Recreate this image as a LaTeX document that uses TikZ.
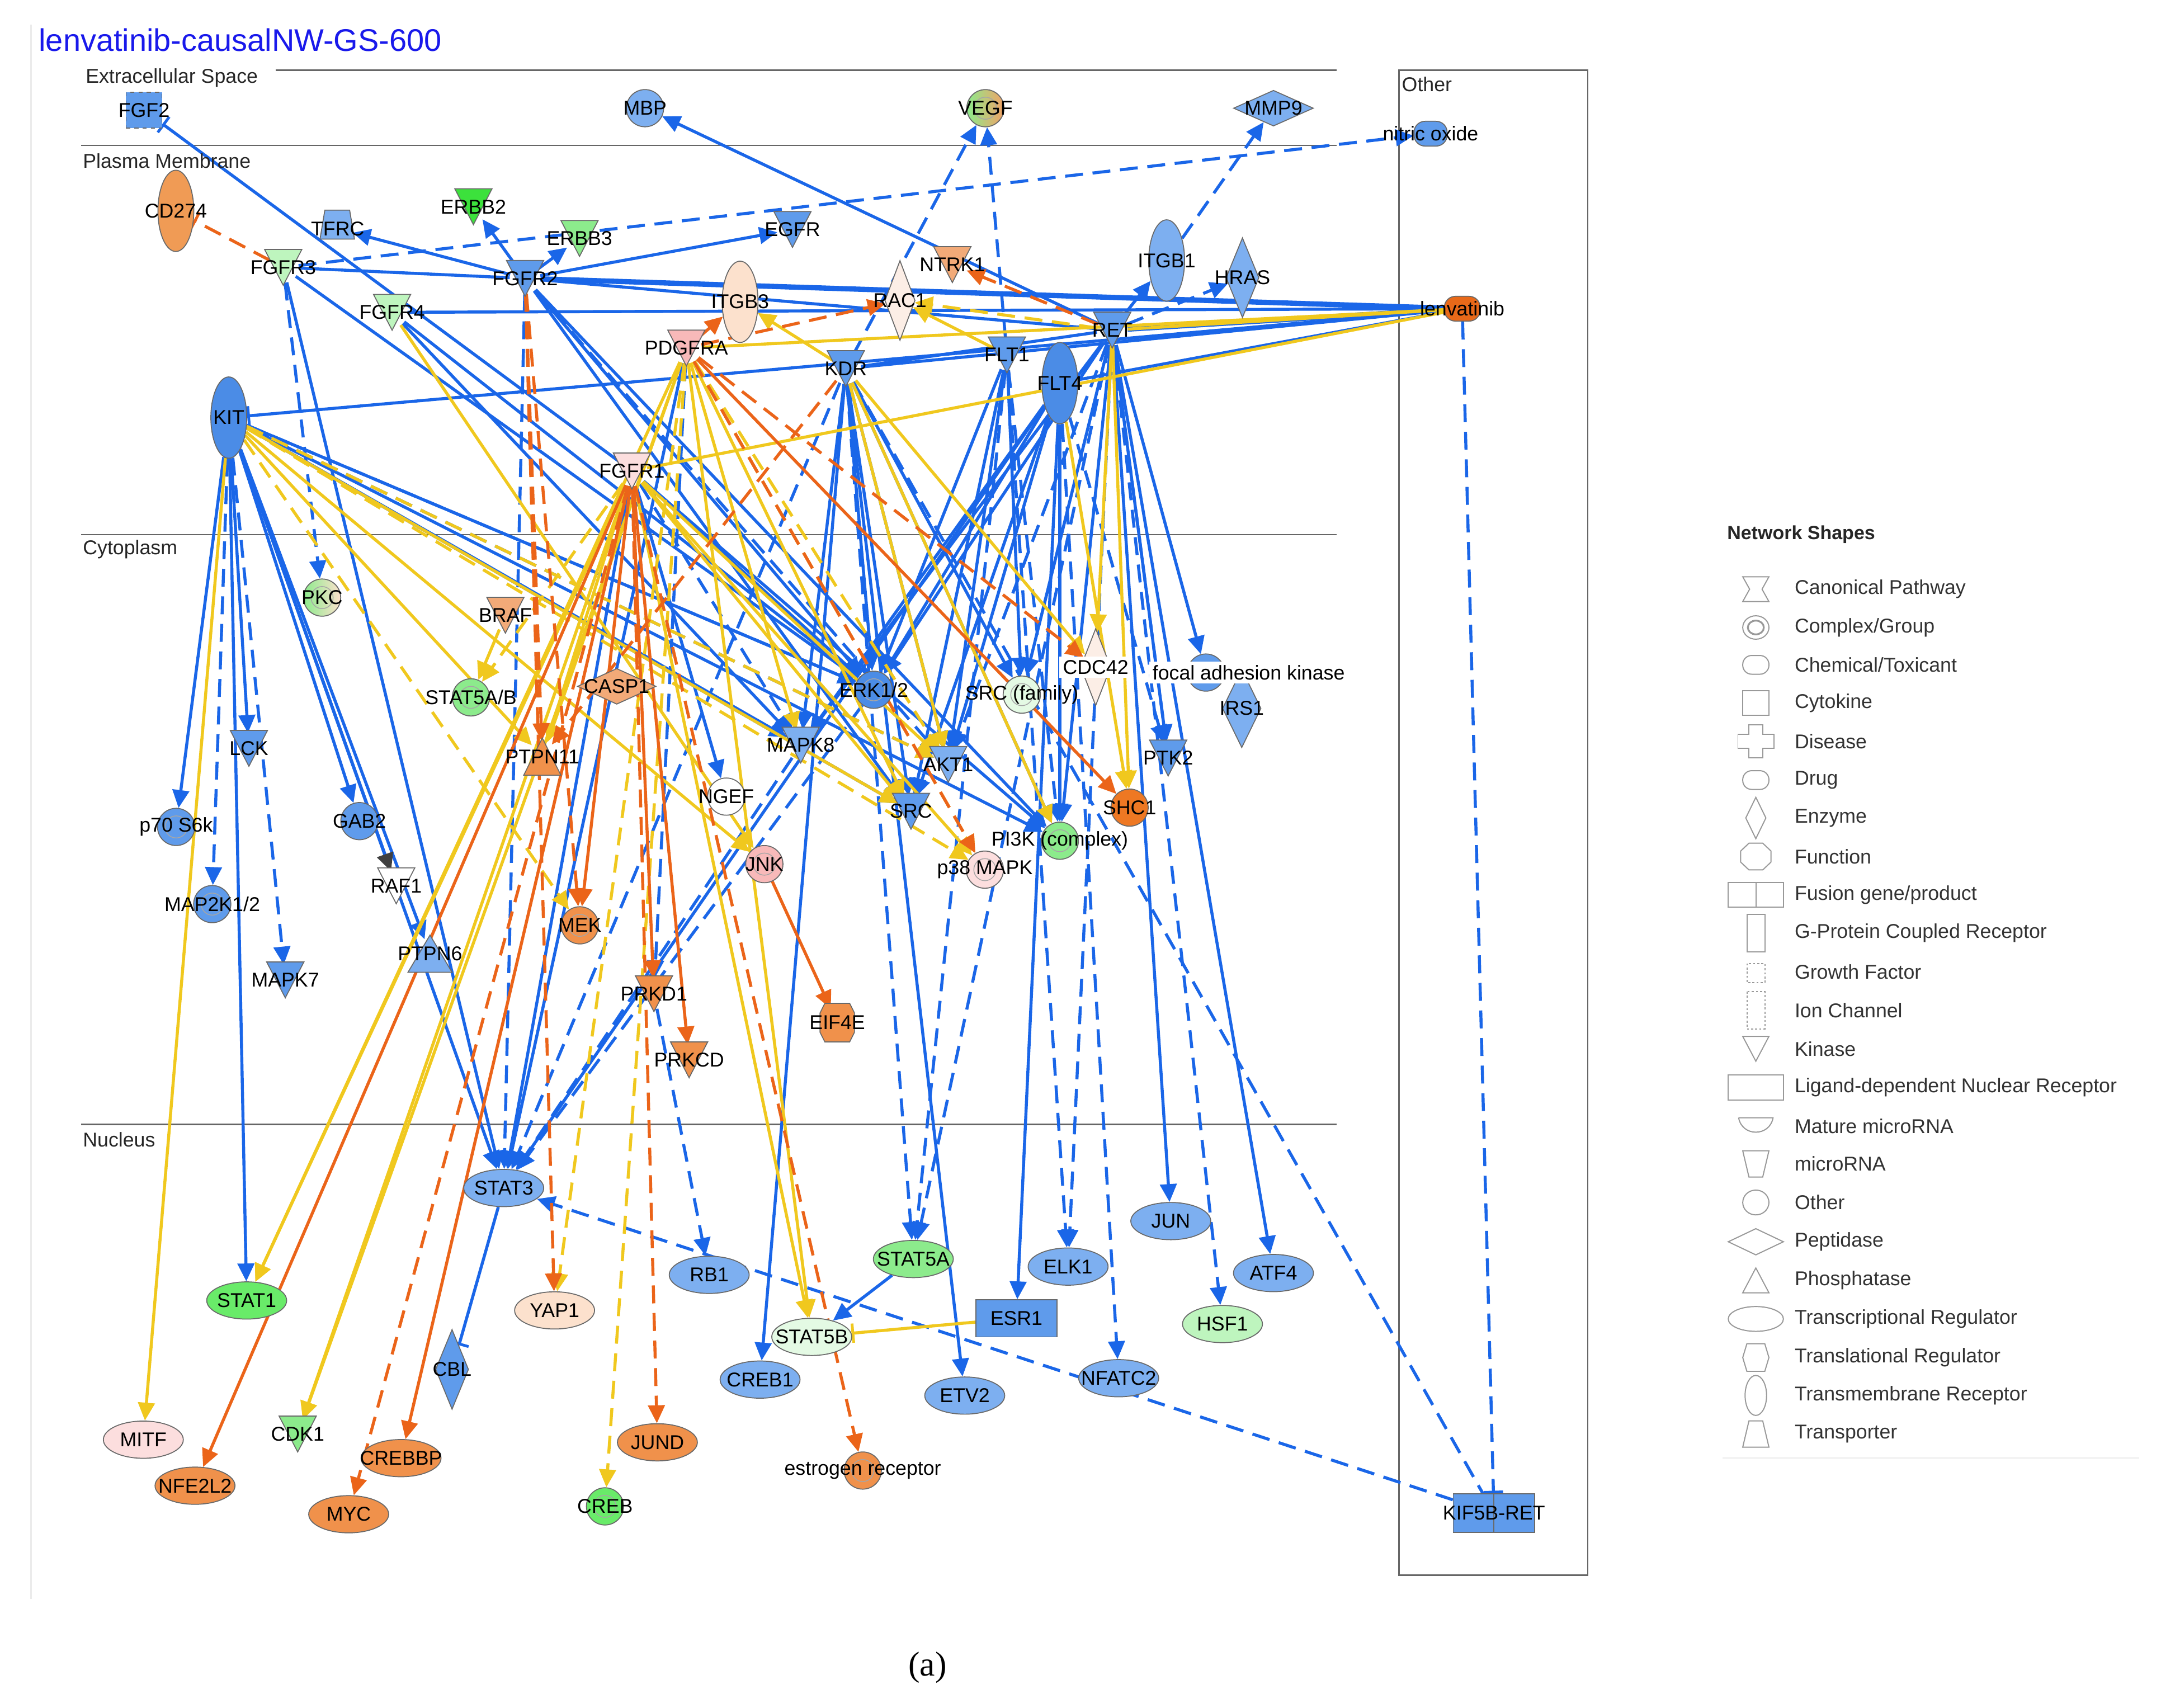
\documentclass[tikz,border=0pt]{standalone}
\usepackage{fontspec}
\setmainfont{Liberation Sans}
\newfontfamily\capfont{Liberation Serif}
\usetikzlibrary{shapes.geometric,arrows.meta}
\pgfdeclarelayer{bg}
\pgfsetlayers{bg,main}
\newcommand\lbl{\fontsize{14.5}{16}\selectfont}
\definecolor{eblue}{RGB}{26,102,232}
\definecolor{eyel}{RGB}{240,200,30}
\definecolor{eorg}{RGB}{235,100,25}
\definecolor{ngray}{RGB}{105,105,105}
\definecolor{dblue}{RGB}{75,140,230}
\definecolor{nblue}{RGB}{95,155,235}
\definecolor{lblue}{RGB}{125,175,240}
\definecolor{gbright}{RGB}{60,225,60}
\definecolor{gbright2}{RGB}{105,235,105}
\definecolor{glight}{RGB}{140,235,140}
\definecolor{gpale}{RGB}{190,245,190}
\definecolor{gvpale}{RGB}{228,250,228}
\definecolor{omed}{RGB}{240,145,75}
\definecolor{lorg}{RGB}{232,105,25}
\definecolor{oshc}{RGB}{238,120,35}
\definecolor{corg}{RGB}{240,155,85}
\definecolor{olight}{RGB}{242,170,120}
\definecolor{peach}{RGB}{252,225,205}
\definecolor{peachl}{RGB}{252,238,230}
\definecolor{pinkm}{RGB}{248,185,185}
\definecolor{pinkl}{RGB}{252,222,222}
\definecolor{titleblue}{RGB}{25,25,235}
\tikzset{
 nd/.style={draw=ngray, line width=0.7pt, inner sep=0pt},
 lb/.style={font=\lbl, inner sep=0pt, text=black},
 L/.style={label={[lb]center:#1}},
 tr/.style={nd, ellipse, minimum width=58, minimum height=27},
 tm/.style={nd, ellipse, minimum width=26, minimum height=59},
 cx/.style={nd, circle, minimum size=27, path picture={\draw[black!35, line width=0.6pt] (path picture bounding box.center) circle (8);}},
 ot/.style={nd, circle, minimum size=27},
 enz/.style={nd, diamond, minimum width=24, minimum height=58},
 pep/.style={nd, diamond, minimum width=58, minimum height=26},
 hid/.style={circle, minimum size=22, inner sep=0pt},
 EW/.style={line width=2.2pt},
 bc/.style={EW, draw=eblue},
 yc/.style={EW, draw=eyel},
 oc/.style={EW, draw=eorg},
 dsh/.style={dash pattern=on 13pt off 7pt},
 ar/.style={-{Triangle[length=13pt,width=12pt]}},
 te/.style={-{Bar[width=14pt,line width=2pt]}},
 bs/.style={bc,ar}, bd/.style={bc,ar,dsh}, bl/.style={bc}, bld/.style={bc,dsh},
 bt/.style={bc,te}, bdt/.style={bc,te,dsh}, blT/.style={bc,line width=3.8pt},
 bsg/.style={bc,-{Triangle[length=13pt,width=12pt,color=darkgray]}},
 ys/.style={yc,ar}, yd/.style={yc,ar,dsh}, yl/.style={yc}, yt/.style={yc,te},
 os/.style={oc,ar}, od/.style={oc,ar,dsh}, odt/.style={oc,te,dsh},
 lg/.style={draw=black!40, line width=0.8pt},
 lgt/.style={anchor=west, font=\lbl, text=black!80, inner sep=0pt},
 comp/.style={anchor=west, font=\lbl, text=black!85, inner sep=0pt}
}
\newcommand\lnk[3]{\draw[#1] (#2) -- (#3);}
\newcommand\kin[5]{\filldraw[fill=#4,draw=ngray,line width=0.7pt] (#2,#3) ++(-13.5,-13) -- ++(27,0) -- ++(-13.5,26) -- cycle;
 \node[hid,L={#5}] (#1) at (#2,#3) {};}
\newcommand\phos[6]{\filldraw[fill=#4,draw=ngray,line width=0.7pt] (#2,#3) ++(0,-13.5) -- ++(#6/2,27) -- ++(-#6,0) -- cycle;
 \node[hid,L={#5}] (#1) at (#2,#3) {};}
\begin{document}
\begin{tikzpicture}[x=1pt,y=-1pt]
\useasboundingbox (0,0) rectangle (1568,1239);
% title and compartments
\node[anchor=west, inner sep=0pt, text=titleblue, font=\fontsize{22.7}{26}\selectfont] at (28,29) {lenvatinib-causalNW-GS-600};
\node[comp] at (62,56.6) {Extracellular Space};
\node[comp] at (60,116.6) {Plasma Membrane};
\node[comp] at (60,398.6) {Cytoplasm};
\node[comp] at (60,827) {Nucleus};
\node[comp] at (1017,61) {Other};
\node[inner sep=0pt, font=\capfont\fontsize{25}{28}\selectfont] at (673,1210) {(a)};

% ---------------- nodes ----------------
% Extracellular
\node[nd, rectangle, dashed, minimum size=26, fill=nblue, L=FGF2] (fgf2) at (104.5,80) {};
\node[ot, fill=lblue, L=MBP] (mbp) at (468,78.5) {};
\node[cx, left color=glight, right color=omed!85, L=VEGF] (vegf) at (715,78.5) {};
\node[pep, fill=lblue, L=MMP9] (mmp9) at (924,78.5) {};
\node[nd, rectangle, rounded corners=8, minimum width=24, minimum height=18, fill=nblue, L={nitric oxide}] (nitric) at (1038,97) {};
% Plasma membrane
\node[tm, fill=corg, L=CD274] (cd274) at (127.6,153) {};
\filldraw[fill=lblue,draw=ngray,line width=0.7pt] (244.7,163) ++(-9,-10.5) -- ++(18,0) -- ++(3.5,21) -- ++(-25,0) -- cycle;
\node[hid, L=TFRC] (tfrc) at (245,166) {};
\kin{erbb2}{343.5}{150}{gbright}{ERBB2}
\kin{erbb3}{420.5}{173}{glight}{ERBB3}
\kin{egfr}{575}{166.5}{nblue}{EGFR}
\kin{fgfr3}{205.5}{194}{gpale}{FGFR3}
\kin{fgfr2}{381}{202}{nblue}{FGFR2}
\kin{fgfr4}{284.5}{226.6}{gpale}{FGFR4}
\node[tm, fill=peach, L=ITGB3] (itgb3) at (537,219) {};
\node[enz, minimum width=22, fill=peachl, L=RAC1] (rac1) at (653,218) {};
\kin{ntrk1}{691}{192}{olight}{NTRK1}
\node[tm, fill=lblue, L=ITGB1] (itgb1) at (846.5,189) {};
\node[enz, fill=lblue, L=HRAS] (hras) at (901.5,201.5) {};
\kin{ret}{807}{239.5}{nblue}{RET}
\kin{pdgfra}{498}{252.5}{pinkm}{PDGFRA}
\kin{kdr}{613.7}{267.4}{nblue}{KDR}
\kin{flt1}{730.6}{257.5}{nblue}{FLT1}
\node[tm, fill=dblue, L=FLT4] (flt4) at (769,278) {};
\node[tm, fill=dblue, L=KIT] (kit) at (166,303) {};
\kin{fgfr1}{458.5}{341.7}{pinkl}{FGFR1}
\node[nd, rectangle, rounded corners=8, minimum width=26, minimum height=18, fill=lorg, L=lenvatinib] (lenv) at (1061,224) {};
% Cytoplasm
\node[cx, left color=glight, right color=peach, L=PKC] (pkc) at (233.7,433.6) {};
\kin{braf}{366.7}{446.4}{olight}{BRAF}
\node[cx, fill=glight, L=STAT5A/B] (stat5ab) at (341.7,506) {};
\node[pep, minimum width=57, fill=olight, L=CASP1] (casp1) at (447.5,498) {};
\phos{ptpn11}{393.5}{549}{omed}{PTPN11}{27}
\kin{lck}{180.6}{543}{nblue}{LCK}
\node[cx, fill=nblue, L={p70 S6k}] (p70) at (127.8,600) {};
\node[ot, fill=nblue, L=GAB2] (gab2) at (260.8,595.8) {};
\kin{raf1}{287.5}{642.7}{white}{RAF1}
\node[cx, fill=nblue, L=MAP2K1/2] (map2k) at (154,656) {};
\kin{mapk7}{207}{711}{nblue}{MAPK7}
\node[cx, fill=omed, L=MEK] (mek) at (420.7,671.4) {};
\phos{ptpn6}{312}{692}{lblue}{PTPN6}{32}
\kin{prkd1}{474.5}{721}{omed}{PRKD1}
\kin{prkcd}{500}{769}{omed}{PRKCD}
\node[cx, fill=dblue, L=ERK1/2] (erk) at (634,500.5) {};
\node[cx, fill=gvpale, L={SRC (family)}] (srcf) at (741.4,504) {};
\node[enz, minimum width=22, minimum height=56, fill=peachl, label={[lb,fill=white,inner sep=2.5pt]center:CDC42}] (cdc42) at (795,484) {};
\node[enz, minimum width=28, minimum height=57, fill=lblue, L=IRS1] (irs1) at (901,514) {};
\node[ot, fill=nblue, label={[lb,fill=white,inner sep=2.5pt,xshift=31pt]center:focal adhesion kinase}] (fak) at (875,488) {};
\kin{mapk8}{581}{540.6}{lblue}{MAPK8}
\kin{akt1}{688}{554.6}{lblue}{AKT1}
\kin{ptk2}{847.6}{550}{nblue}{PTK2}
\node[ot, fill=white, L=NGEF] (ngef) at (527,578) {};
\kin{src}{661}{588.6}{nblue}{SRC}
\node[ot, fill=oshc, L=SHC1] (shc1) at (819.6,586) {};
\node[cx, fill=glight, L={PI3K (complex)}] (pi3k) at (769,610) {};
\node[cx, fill=pinkl, L={p38 MAPK}] (p38) at (714.6,631) {};
\node[cx, fill=pinkm, L=JNK] (jnk) at (554.6,627) {};
\filldraw[fill=omed,draw=ngray,line width=0.7pt] (607.5,742) ++(-9,-14) -- ++(18,0) -- ++(3.5,7) -- ++(0,14) -- ++(-3.5,7) -- ++(-18,0) -- ++(-3.5,-7) -- ++(0,-14) -- cycle;
\node[hid, L=EIF4E] (eif4e) at (607.5,742) {};
% Nucleus
\node[tr, fill=lblue, L=STAT3] (stat3) at (365.5,862) {};
\node[tr, fill=lblue, L=JUN] (jun) at (849.5,886) {};
\node[tr, fill=glight, L=STAT5A] (stat5a) at (662.7,913.5) {};
\node[tr, fill=lblue, L=RB1] (rb1) at (514.6,925) {};
\node[tr, fill=lblue, L=ELK1] (elk1) at (775,919) {};
\node[tr, fill=lblue, L=ATF4] (atf4) at (924,923.7) {};
\node[tr, fill=gbright2, L=STAT1] (stat1) at (179,943.6) {};
\node[tr, fill=peach, L=YAP1] (yap1) at (402.4,950.8) {};
\node[nd, rectangle, minimum width=59, minimum height=27, fill=nblue, L=ESR1] (esr1) at (737.5,956.6) {};
\node[tr, fill=gvpale, L=STAT5B] (stat5b) at (589,970) {};
\node[tr, fill=gpale, L=HSF1] (hsf1) at (887,960.7) {};
\node[enz, fill=nblue, L=CBL] (cbl) at (328,993.6) {};
\node[tr, fill=lblue, L=CREB1] (creb1) at (551.5,1001) {};
\node[tr, fill=lblue, L=NFATC2] (nfatc2) at (811.7,1000) {};
\node[tr, fill=lblue, L=ETV2] (etv2) at (700,1012.6) {};
\node[tr, fill=pinkl, L=MITF] (mitf) at (104,1044.6) {};
\kin{cdk1}{216}{1040.5}{glight}{CDK1}
\node[tr, fill=omed, L=CREBBP] (crebbp) at (291,1058) {};
\node[tr, fill=omed, L=JUND] (jund) at (477,1046.5) {};
\node[tr, fill=omed, L=NFE2L2] (nfe2l2) at (141.5,1078) {};
\node[tr, fill=omed, L=MYC] (myc) at (253,1098.7) {};
\node[cx, fill=gbright2, L=CREB] (creb) at (439,1093) {};
\node[cx, fill=omed, L={estrogen receptor}] (estr) at (626,1067) {};
\node[nd, rectangle, minimum width=59, minimum height=28, fill=nblue, L=KIF5B-RET, path picture={\draw[ngray, line width=0.7pt] (path picture bounding box.north) -- (path picture bounding box.south);}] (kif5b) at (1084,1098) {};

% ---------------- edges and compartment lines ----------------
\begin{pgfonlayer}{bg}
\fill[white] (0,0) rectangle (1568,1239);
\draw[black!8, line width=1pt] (22.5,18) -- (22.5,1160);
\draw[black!60, line width=1pt] (200,50.9) -- (970,50.9);
\draw[black!60, line width=1pt] (59,105.5) -- (970,105.5);
\draw[black!60, line width=1pt] (59,387.9) -- (970,387.9);
\draw[black!60, line width=1pt] (59,815.8) -- (970,815.8);
\draw[black!60, line width=1pt] (1015,50.9) rectangle (1152,1143);
\draw[black!8, line width=1pt] (1250,1058) -- (1552,1058);
% blue
\lnk{bt}{fgfr1}{fgf2}
\lnk{bs}{fgfr2}{tfrc}
\lnk{bs}{fgfr2}{erbb2}
\lnk{bs}{fgfr2}{erbb3}
\lnk{bs}{fgfr2}{egfr}
\lnk{bl}{fgfr3}{fgfr2}
\lnk{bd}{fgfr3}{nitric}
\lnk{blT}{fgfr2}{lenv}
\lnk{bl}{fgfr2}{ret}
\lnk{bl}{fgfr4}{lenv}
\lnk{bt}{lenv}{kit}
\lnk{bs}{ret}{itgb1}
\lnk{bd}{ret}{hras}
\lnk{bd}{itgb1}{mmp9}
\lnk{bs}{ret}{mbp}
\lnk{bd}{kdr}{vegf}
\lnk{bd}{flt1}{vegf}
\lnk{blT}{ret}{lenv}
\lnk{bl}{kdr}{lenv}
\lnk{bl}{kdr}{ret}
\lnk{bl}{flt4}{lenv}
\lnk{bdt}{lenv}{kif5b}
\lnk{bld}{kdr}{kif5b}
\lnk{bd}{kif5b}{stat3}
\foreach \t in {p70,lck,stat1,gab2,ptpn6,stat3,erk,mapk8,src,pi3k} {\lnk{bs}{kit}{\t}}
\foreach \t in {map2k,mapk7,erk,akt1} {\lnk{bd}{kit}{\t}}
\lnk{bsg}{kit}{raf1}
\lnk{bd}{fgfr3}{pkc}
\foreach \t in {stat3,erk} {\lnk{bs}{fgfr3}{\t}}
\foreach \t in {erk,src,pi3k} {\lnk{bs}{fgfr2}{\t}}
\foreach \t in {stat3,akt1} {\lnk{bd}{fgfr2}{\t}}
\foreach \t in {erk,mapk8} {\lnk{bs}{fgfr4}{\t}}
\lnk{bs}{pdgfra}{stat3}
\lnk{bd}{pdgfra}{prkd1}
\foreach \t in {stat3,ngef,erk,pi3k} {\lnk{bs}{fgfr1}{\t}}
\lnk{bd}{fgfr1}{mapk8}
\foreach \t in {erk,srcf,src,akt1,pi3k,etv2,creb1,mapk8} {\lnk{bs}{kdr}{\t}}
\foreach \t in {stat5a,stat3} {\lnk{bd}{kdr}{\t}}
\foreach \t in {erk,akt1,src,srcf} {\lnk{bs}{flt1}{\t}}
\foreach \t in {pi3k,stat5a,elk1} {\lnk{bd}{flt1}{\t}}
\foreach \t in {erk,mapk8,stat3,src,pi3k,akt1,esr1} {\lnk{bs}{flt4}{\t}}
\foreach \t in {nfatc2,ptk2} {\lnk{bd}{flt4}{\t}}
\foreach \t in {fak,pi3k,srcf,jun,atf4,erk,mapk8,ptk2} {\lnk{bs}{ret}{\t}}
\foreach \t in {ptk2,hsf1,elk1,stat5a,akt1} {\lnk{bd}{ret}{\t}}
\lnk{bd}{prkd1}{rb1}
\lnk{bt}{stat3}{cbl}
\lnk{bs}{stat5a}{stat5b}
\lnk{bd}{erk}{stat3}
\lnk{bd}{mapk8}{stat3}
% yellow
\lnk{ys}{kdr}{itgb3}
\lnk{yd}{ret}{rac1}
\lnk{ys}{flt1}{rac1}
\lnk{yl}{pdgfra}{lenv}
\lnk{yl}{fgfr1}{lenv}
\lnk{yl}{ret}{lenv}
\foreach \t in {mitf,ptpn11,jnk,src} {\lnk{ys}{kit}{\t}}
\foreach \t in {mek,p38,akt1} {\lnk{yd}{kit}{\t}}
\lnk{ys}{fgfr4}{jnk}
\foreach \t in {stat1,cdk1,ptpn11,mapk8,src,stat5b} {\lnk{ys}{pdgfra}{\t}}
\foreach \t in {creb,yap1,akt1,p38} {\lnk{yd}{pdgfra}{\t}}
\foreach \t in {stat1,cdk1,stat5b,ptpn11,akt1,src,p38} {\lnk{ys}{fgfr1}{\t}}
\lnk{yd}{fgfr1}{stat5ab}
\foreach \t in {akt1,pi3k,cdc42} {\lnk{ys}{kdr}{\t}}
\foreach \t in {shc1,cdc42} {\lnk{ys}{ret}{\t}}
\lnk{ys}{flt4}{shc1}
\lnk{ys}{braf}{stat5ab}
\lnk{yt}{esr1}{stat5b}
% orange
\lnk{odt}{fgfr3}{cd274}
\lnk{od}{ret}{ntrk1}
\lnk{os}{pdgfra}{itgb3}
\lnk{od}{pdgfra}{rac1}
\foreach \t in {ptpn11,mek,yap1} {\lnk{od}{fgfr2}{\t}}
\foreach \t in {nfe2l2,crebbp,mek,prkd1,prkcd} {\lnk{os}{fgfr1}{\t}}
\foreach \t in {myc,jund,estr} {\lnk{od}{fgfr1}{\t}}
\lnk{os}{pdgfra}{shc1}
\foreach \t in {cdc42,p38} {\lnk{od}{pdgfra}{\t}}
\lnk{od}{kdr}{ptpn11}
\lnk{os}{jnk}{eif4e}
\end{pgfonlayer}

% ---------------- legend ----------------
\node[anchor=west, inner sep=0pt, font=\bfseries\fontsize{13.8}{16}\selectfont, text=black!85] at (1253,388) {Network Shapes};
\begin{scope}[shift={(1274,427.5)}]\draw[lg] (-9.5,-9) -- (9.5,-9) -- (4.5,0) -- (9.5,9) -- (-9.5,9) -- (-4.5,0) -- cycle;\end{scope}
\node[lgt] at (1302,427.5) {Canonical Pathway};
\begin{scope}[shift={(1274,455.3)}]\draw[lg] (0,0) ellipse (9.5 and 8.5);\draw[lg, line width=1.3pt] (0,0) ellipse (5.8 and 5);\end{scope}
\node[lgt] at (1302,455.3) {Complex/Group};
\begin{scope}[shift={(1274,482.4)}]\draw[lg, rounded corners=6.5] (-9.5,-6.8) rectangle (9.5,6.8);\end{scope}
\node[lgt] at (1302,482.4) {Chemical/Toxicant};
\begin{scope}[shift={(1274,510)}]\draw[lg] (-9.5,-9) rectangle (9.5,9);\end{scope}
\node[lgt] at (1302,510) {Cytokine};
\begin{scope}[shift={(1274,538)}]\draw[lg] (-5,-12) -- (5,-12) -- (5,-5) -- (13,-5) -- (13,5) -- (5,5) -- (5,12) -- (-5,12) -- (-5,5) -- (-13,5) -- (-13,-5) -- (-5,-5) -- cycle;\end{scope}
\node[lgt] at (1302,538) {Disease};
\begin{scope}[shift={(1274,566)}]\draw[lg, rounded corners=6.5] (-9.5,-6.8) rectangle (9.5,6.8);\end{scope}
\node[lgt] at (1302,566) {Drug};
\begin{scope}[shift={(1274,593.5)}]\draw[lg] (0,-15) -- (7.3,0) -- (0,15) -- (-7.3,0) -- cycle;\end{scope}
\node[lgt] at (1302,593.5) {Enzyme};
\begin{scope}[shift={(1274,621.5)}]\draw[lg] (-5,-9.7) -- (5,-9.7) -- (11,-4) -- (11,4) -- (5,9.7) -- (-5,9.7) -- (-11,4) -- (-11,-4) -- cycle;\end{scope}
\node[lgt] at (1302,621.5) {Function};
\begin{scope}[shift={(1274,649.3)}]\draw[lg] (-20,-9) rectangle (20,9); \draw[lg] (0,-9) -- (0,9);\end{scope}
\node[lgt] at (1302,649.3) {Fusion gene/product};
\begin{scope}[shift={(1274,677)}]\draw[lg] (-6.5,-13.5) rectangle (6.5,13.5);\end{scope}
\node[lgt] at (1302,677) {G-Protein Coupled Receptor};
\begin{scope}[shift={(1274,706)}]\draw[lg, dash pattern=on 1.5pt off 1.5pt] (-6.5,-7) rectangle (6.5,7);\end{scope}
\node[lgt] at (1302,705) {Growth Factor};
\begin{scope}[shift={(1274,733)}]\draw[lg, dash pattern=on 1.5pt off 1.5pt] (-6.5,-13.5) rectangle (6.5,13.5);\end{scope}
\node[lgt] at (1302,733) {Ion Channel};
\begin{scope}[shift={(1274,761)}]\draw[lg] (-9.5,-9) -- (9.5,-9) -- (0,9) -- cycle;\end{scope}
\node[lgt] at (1302,761) {Kinase};
\begin{scope}[shift={(1274,789)}]\draw[lg] (-20,-9) rectangle (20,9);\end{scope}
\node[lgt] at (1302,789) {Ligand-dependent Nuclear Receptor};
\begin{scope}[shift={(1274,817)}]\draw[lg] (-12.5,-6) -- (12.5,-6) .. controls (10,8) and (-10,8) .. (-12.5,-6);\end{scope}
\node[lgt] at (1302,817) {Mature microRNA};
\begin{scope}[shift={(1274,844.5)}]\draw[lg] (-9.5,-9.5) -- (9.5,-9.5) -- (5,9.5) -- (-5,9.5) -- cycle;\end{scope}
\node[lgt] at (1302,844.5) {microRNA};
\begin{scope}[shift={(1274,872.5)}]\draw[lg] (0,0) ellipse (9.5 and 9);\end{scope}
\node[lgt] at (1302,872.5) {Other};
\begin{scope}[shift={(1274,901)}]\draw[lg] (-20,0) -- (0,-9.5) -- (20,0) -- (0,9.5) -- cycle;\end{scope}
\node[lgt] at (1302,901) {Peptidase};
\begin{scope}[shift={(1274,929)}]\draw[lg] (0,-9) -- (9.5,9) -- (-9.5,9) -- cycle;\end{scope}
\node[lgt] at (1302,929) {Phosphatase};
\begin{scope}[shift={(1274,957)}]\draw[lg] (0,0) ellipse (20 and 9);\end{scope}
\node[lgt] at (1302,957) {Transcriptional Regulator};
\begin{scope}[shift={(1274,985)}]\draw[lg] (-6.5,-10) -- (6.5,-10) -- (9.5,0) -- (6.5,10) -- (-6.5,10) -- (-9.5,0) -- cycle;\end{scope}
\node[lgt] at (1302,985) {Translational Regulator};
\begin{scope}[shift={(1274,1012.5)}]\draw[lg] (0,0) ellipse (7.8 and 14.5);\end{scope}
\node[lgt] at (1302,1012.5) {Transmembrane Receptor};
\begin{scope}[shift={(1274,1040.5)}]\draw[lg] (-5,-9.5) -- (5,-9.5) -- (9.5,9.5) -- (-9.5,9.5) -- cycle;\end{scope}
\node[lgt] at (1302,1040.5) {Transporter};
\end{tikzpicture}
\end{document}
